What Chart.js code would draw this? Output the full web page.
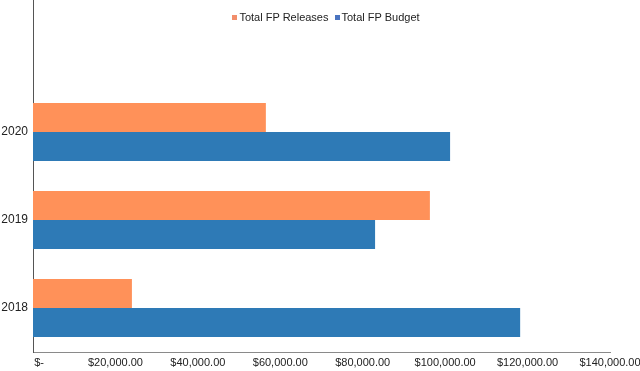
<!DOCTYPE html>
<html>
<head>
<meta charset="utf-8">
<script src="https://cdn.jsdelivr.net/npm/chart.js@4"></script>
<style>
  html, body { margin: 0; padding: 0; background: #fff; }
  #wrap { position: relative; width: 640px; height: 371px; }
  #legend {
    position: absolute; top: 11px; left: 12px; width: 628px; text-align: center;
    font-family: "Liberation Sans", Arial, sans-serif; font-size: 11px; color: #222;
  }
  #legend span.item { margin: 0 3px; }
  #legend i { display: inline-block; width: 5px; height: 5px; margin-right: 2px; vertical-align: 1px; }
</style>
</head>
<body>
<div id="wrap">
  <canvas id="chart" width="640" height="371"></canvas>
  <div id="legend"></div>
</div>
<script>
// --- Data ---
const years = ['', '2020', '2019', '2018'];
const fpReleases = [null, 56500, 96300, 24000];
const fpBudget = [null, 101200, 83000, 118200];
const xTicks = [0, 20000, 40000, 60000, 80000, 100000, 120000, 140000];

const seriesNames = ['Total FP Releases', 'Total FP Budget'];
const barColors = ['#FF9159', '#2E7AB6'];
const legendColors = ['#F28E6B', '#4A74C0'];

// Simple legend drawn on top so the plot can run to the top edge
const legendEl = document.getElementById('legend');
seriesNames.forEach((name, i) => {
    const item = document.createElement('span');
    item.className = 'item';
    item.innerHTML = `<i style="background:${legendColors[i]}"></i>${name}`;
    legendEl.appendChild(item);
});

function money(v) {
    if (v === 0) return '    $-';
    return '$' + v.toLocaleString('en-US', { minimumFractionDigits: 2, maximumFractionDigits: 2 });
}

const ctx = document.getElementById('chart').getContext('2d');
new Chart(ctx, {
    type: 'bar',
    data: {
        labels: years,
        datasets: [
            {
                label: seriesNames[0],
                data: fpReleases,
                backgroundColor: barColors[0],
                categoryPercentage: 0.66,
                barPercentage: 1.0
            },
            {
                label: seriesNames[1],
                data: fpBudget,
                backgroundColor: barColors[1],
                categoryPercentage: 0.66,
                barPercentage: 1.0
            }
        ]
    },
    options: {
        indexAxis: 'y',
        responsive: false,
        animation: false,
        layout: { padding: 0 },
        plugins: {
            legend: { display: false },
            tooltip: { enabled: false }
        },
        scales: {
            x: {
                min: 0,
                max: 140000,
                afterBuildTicks: (axis) => { axis.ticks = xTicks.map(v => ({ value: v })); },
                afterFit: (axis) => {
                    axis.height = 19;
                    axis.paddingRight = 30;
                },
                grid: { display: false, drawTicks: false, tickLength: 0 },
                border: { display: true, color: '#8a8a8a', width: 1 },
                ticks: {
                    color: '#222',
                    padding: 4,
                    maxRotation: 0,
                    autoSkip: false,
                    font: { family: '"Liberation Sans", Arial, sans-serif', size: 11 },
                    callback: (value) => money(value)
                }
            },
            y: {
                afterFit: (axis) => {
                    axis.width = 33;
                    axis.paddingTop = 0;
                    axis.paddingBottom = 0;
                },
                grid: { display: false, drawTicks: false, tickLength: 0 },
                border: { display: true, color: '#555', width: 1 },
                ticks: {
                    color: '#222',
                    padding: 5,
                    font: { family: '"Liberation Sans", Arial, sans-serif', size: 12 }
                }
            }
        }
    }
});
</script>
</body>
</html>
